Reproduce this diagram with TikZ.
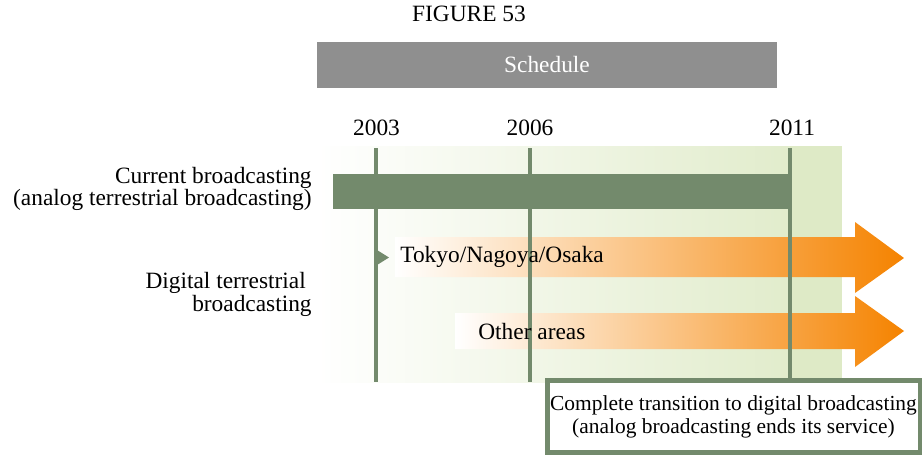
\documentclass[tikz,border=0pt]{standalone}
\usepackage{fontspec}
\setmainfont{Liberation Serif}
\newfontfamily\figserif{Liberation Serif}
\usepackage{xcolor}
\usetikzlibrary{positioning,calc}
\definecolor{barGreen}{HTML}{738A6C}
\definecolor{paleGreen}{HTML}{DEEAC6}
\definecolor{schedGray}{HTML}{8F8F8F}
\definecolor{arrOrange}{HTML}{F58300}
\lineskiplimit=-20pt
\lineskip=0pt

\begin{document}
\begin{tikzpicture}[x=0.02cm, y=-0.02cm,
  every node/.style={font=\figserif\fontsize{13.3}{13.4}\selectfont},
  lab/.style={inner sep=0pt},
  year/.style={lab, anchor=center},
  side/.style={lab, align=right, anchor=east},
  tick/.style={draw=barGreen, line width=1.8pt},
]
\useasboundingbox (0,0) rectangle (922,454);
% background band
\shade[left color=white, right color=paleGreen!90] (317,146) rectangle (790,382);
\fill[paleGreen] (790,146) rectangle (842,382);
% header
\node[lab] (fig) at (469,14) {FIGURE 53};
\node[fill=schedGray, minimum width=9.2cm, minimum height=0.92cm, inner sep=0pt,
  text=white] (sched) at (547,65) {Schedule};
\node[year] (y03) at (376.5,128) {2003};
\node[year] (y06) at (530,128) {2006};
\node[year] (y11) at (792,128) {2011};
\coordinate (t03) at (376,148);
\coordinate (t06) at (530,148);
\coordinate (t11) at (790,148);
\coordinate (b03) at (376,382);
\coordinate (b06) at (530,382);
% current broadcasting bar
\fill[barGreen] (333,174) rectangle (790,209);
% digital arrows
\shade[left color=white, right color=arrOrange]
  (395,237) -- (855,237) -- (855,222) -- (904,258) -- (855,293) -- (855,277) -- (395,277) -- cycle;
\shade[left color=white, right color=arrOrange]
  (455,313) -- (855,313) -- (855,296) -- (904,331) -- (855,367) -- (855,349) -- (455,349) -- cycle;
% final box
\node[draw=barGreen, line width=2.8pt, fill=white, minimum width=7.46cm,
  minimum height=1.44cm, inner sep=0pt, align=center,
  font=\figserif\fontsize{12.2}{13}\selectfont] (end) at (733.5,416.5)
  {Complete transition to digital broadcasting\\(analog broadcasting ends its service)};
% time lines
\draw[tick] (t03) -- (b03);
\draw[tick] (t06) -- (b06);
\draw[draw=barGreen, line width=2.6pt] (t11) -- (t11 |- end.north);
\fill[barGreen] (377,250) -- (389,257.5) -- (377,265) -- cycle;
\node[lab, anchor=west] (tno) at (400,257) {Tokyo/Nagoya/Osaka};
\node[lab, anchor=west] (oth) at (478,331) {Other areas};
% left labels
\node[side, font=\figserif\fontsize{13.3}{12.4}\selectfont] (cur) at (312,189)
  {Current broadcasting\\(analog terrestrial broadcasting)};
\node[side] (dig) at (312,294.5) {Digital terrestrial\hphantom{ }\\broadcasting};
\end{tikzpicture}
\end{document}
